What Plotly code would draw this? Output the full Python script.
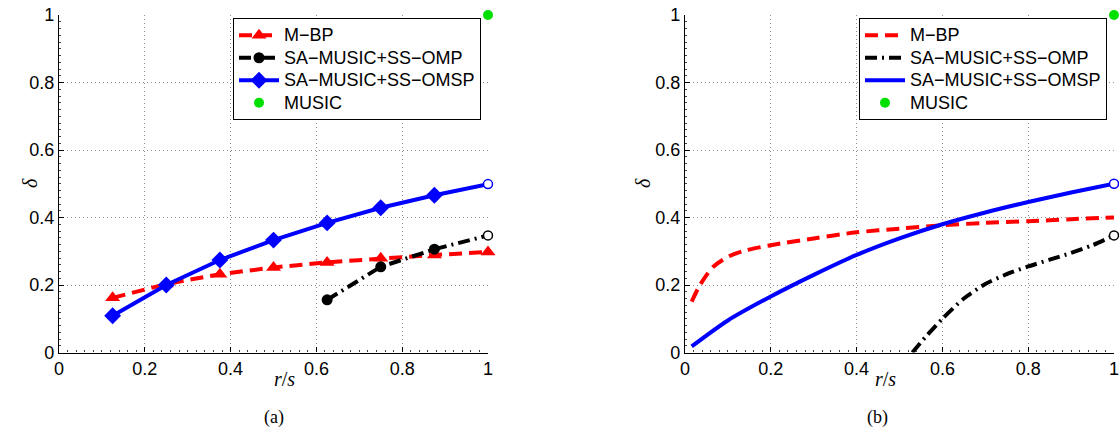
import plotly.graph_objects as go

# ---------------- data ----------------
# panel (a)
rs_a = [0.125, 0.25, 0.375, 0.5, 0.625, 0.75, 0.875, 1.0]
mbp_a = [0.162, 0.203, 0.232, 0.252, 0.267, 0.279, 0.289, 0.298]
omsp_a = [0.109, 0.200, 0.274, 0.333, 0.384, 0.429, 0.466, 0.499]
rs_omp_a = [0.625, 0.75, 0.875]
omp_a = [0.156, 0.254, 0.306]
end_x = [1.0]
omp_end = [0.347]
omsp_end = [0.499]
music_x = [1.0]
music_y = [1.0]

# panel (b)
rs_mbp_b = [0.0156, 0.035, 0.066, 0.104, 0.143, 0.2, 0.3, 0.4, 0.5, 0.6, 0.7, 0.8, 0.9, 1.0]
mbp_b = [0.151, 0.200, 0.254, 0.286, 0.303, 0.318, 0.338, 0.356, 0.367, 0.377, 0.384, 0.389, 0.395, 0.400]
rs_omsp_b = [0.0156, 0.1, 0.2, 0.3, 0.4, 0.5, 0.6, 0.7, 0.8, 0.9, 1.0]
omsp_b = [0.018, 0.095, 0.166, 0.230, 0.289, 0.338, 0.380, 0.415, 0.446, 0.474, 0.500]
rs_omp_b = [0.53, 0.56, 0.6, 0.65, 0.7, 0.75, 0.8, 0.85, 0.9, 0.95, 1.0]
omp_b = [0.0, 0.045, 0.100, 0.160, 0.203, 0.232, 0.255, 0.275, 0.295, 0.318, 0.347]

tick_vals = [0, 0.2, 0.4, 0.6, 0.8, 1]
tick_text = ["0", "0.2", "0.4", "0.6", "0.8", "1"]
names = ["M\u2212BP", "SA\u2212MUSIC+SS\u2212OMP", "SA\u2212MUSIC+SS\u2212OMSP", "MUSIC"]


def lg(name):
    # legend text drawn at 18px while the row spacing follows the 15px legend font
    return '<span style="font-size:18px">' + name + "</span>"


RED, BLACK, BLUE, GREEN = "#ff0000", "#000000", "#0000ff", "#00e000"
LW = 4
DASH = "13px,7px"
DASHDOT = "12px,5px,2px,5px"
SANS = "Liberation Sans, Arial"
SERIF = "Liberation Serif, Times New Roman"

fig = go.Figure()

# ---- panel (a) ----
fig.add_trace(go.Scatter(x=rs_a, y=mbp_a, mode="lines+markers", name=lg(names[0]),
                         line=dict(color=RED, width=LW, dash=DASH),
                         marker=dict(symbol="triangle-up", size=13, color=RED),
                         xaxis="x", yaxis="y", legend="legend", cliponaxis=False))
fig.add_trace(go.Scatter(x=rs_omp_a + end_x, y=omp_a + omp_end, mode="lines", showlegend=False,
                         line=dict(color=BLACK, width=LW, dash=DASHDOT),
                         xaxis="x", yaxis="y", cliponaxis=False))
fig.add_trace(go.Scatter(x=rs_omp_a, y=omp_a, mode="markers", showlegend=False,
                         marker=dict(symbol="circle", size=11, color=BLACK),
                         xaxis="x", yaxis="y", cliponaxis=False))
# legend entry for OMP (line + marker)
fig.add_trace(go.Scatter(x=[None], y=[None], mode="lines+markers", name=lg(names[1]),
                         line=dict(color=BLACK, width=LW, dash=DASHDOT),
                         marker=dict(symbol="circle", size=11, color=BLACK),
                         xaxis="x", yaxis="y", legend="legend"))
fig.add_trace(go.Scatter(x=rs_a[:-1], y=omsp_a[:-1], mode="lines+markers", name=lg(names[2]),
                         line=dict(color=BLUE, width=LW),
                         marker=dict(symbol="diamond", size=13, color=BLUE),
                         xaxis="x", yaxis="y", legend="legend", cliponaxis=False))
fig.add_trace(go.Scatter(x=rs_a[-2:], y=omsp_a[-2:], mode="lines", showlegend=False,
                         line=dict(color=BLUE, width=LW), xaxis="x", yaxis="y", cliponaxis=False))
fig.add_trace(go.Scatter(x=end_x, y=omp_end, mode="markers", showlegend=False,
                         marker=dict(symbol="circle", size=9, color="white",
                                     line=dict(color=BLACK, width=1.5)),
                         xaxis="x", yaxis="y", cliponaxis=False))
fig.add_trace(go.Scatter(x=end_x, y=omsp_end, mode="markers", showlegend=False,
                         marker=dict(symbol="circle", size=9, color="white",
                                     line=dict(color=BLUE, width=1.5)),
                         xaxis="x", yaxis="y", cliponaxis=False))
fig.add_trace(go.Scatter(x=music_x, y=music_y, mode="markers", name=lg(names[3]),
                         marker=dict(symbol="circle", size=10, color=GREEN),
                         xaxis="x", yaxis="y", legend="legend", cliponaxis=False))

# ---- panel (b) ----
fig.add_trace(go.Scatter(x=rs_mbp_b, y=mbp_b, mode="lines", name=lg(names[0]),
                         line=dict(color=RED, width=LW, dash=DASH, shape="spline", smoothing=0.8),
                         xaxis="x2", yaxis="y2", legend="legend2", cliponaxis=False))
fig.add_trace(go.Scatter(x=rs_omp_b, y=omp_b, mode="lines", name=lg(names[1]),
                         line=dict(color=BLACK, width=LW, dash=DASHDOT, shape="spline", smoothing=0.6),
                         xaxis="x2", yaxis="y2", legend="legend2", cliponaxis=False))
fig.add_trace(go.Scatter(x=rs_omsp_b, y=omsp_b, mode="lines", name=lg(names[2]),
                         line=dict(color=BLUE, width=LW, shape="spline", smoothing=0.8),
                         xaxis="x2", yaxis="y2", legend="legend2", cliponaxis=False))
fig.add_trace(go.Scatter(x=end_x, y=omp_end, mode="markers", showlegend=False,
                         marker=dict(symbol="circle", size=9, color="white",
                                     line=dict(color=BLACK, width=1.5)),
                         xaxis="x2", yaxis="y2", cliponaxis=False))
fig.add_trace(go.Scatter(x=end_x, y=[omsp_b[-1]], mode="markers", showlegend=False,
                         marker=dict(symbol="circle", size=9, color="white",
                                     line=dict(color=BLUE, width=1.5)),
                         xaxis="x2", yaxis="y2", cliponaxis=False))
fig.add_trace(go.Scatter(x=music_x, y=music_y, mode="markers", name=lg(names[3]),
                         marker=dict(symbol="circle", size=10, color=GREEN),
                         xaxis="x2", yaxis="y2", legend="legend2", cliponaxis=False))

W, H = 1119, 439
ydom = [1 - 352.5 / H, 1 - 15 / H]

axis_common = dict(
    tickvals=tick_vals, ticktext=tick_text,
    showgrid=True, gridcolor="#909090", griddash="1px,3px", gridwidth=1,
    zeroline=False, showline=True, linecolor="black", linewidth=1.2,
    ticks="inside", ticklen=5, tickcolor="black",
    minor=dict(ticks="inside", ticklen=2, dtick=0.02, tickcolor="#444", showgrid=False),
    tickfont=dict(family=SANS, size=18, color="black"),
    automargin=False, ticklabeloverflow="allow",
)

legend_common = dict(
    xanchor="right", yanchor="top",
    bgcolor="white", bordercolor="black", borderwidth=1,
    font=dict(family=SANS, size=15, color="black"),
    itemwidth=40, tracegroupgap=0,
)

fig.update_layout(
    width=W, height=H,
    margin=dict(l=0, r=0, t=0, b=0, autoexpand=False),
    paper_bgcolor="white", plot_bgcolor="white",
    xaxis=dict(domain=[59 / W, 488 / W], range=[0, 1], anchor="y", **axis_common),
    yaxis=dict(domain=ydom, range=[0, 1], anchor="x", **axis_common),
    xaxis2=dict(domain=[685 / W, 1114 / W], range=[0, 1], anchor="y2", **axis_common),
    yaxis2=dict(domain=ydom, range=[0, 1], anchor="x2", **axis_common),
    legend=dict(x=481 / W, y=1 - 18 / H, **legend_common),
    legend2=dict(x=1107 / W, y=1 - 18 / H, **legend_common),
    showlegend=True,
)

serif = dict(family=SERIF, size=20, color="black")
ann = []
for xc in [272, 898]:
    ann.append(dict(x=xc / W, y=1 - 392 / H, xref="paper", yref="paper",
                    text="<i>r</i>/<i>s</i>", showarrow=False, font=serif))
for xc in [17, 643]:
    ann.append(dict(x=xc / W, y=1 - 183 / H, xref="paper", yref="paper",
                    text="<i>\u03b4</i>", textangle=-90, showarrow=False, font=serif))
for xc, t in [(262, "(a)"), (890, "(b)")]:
    ann.append(dict(x=xc / W, y=1 - 430 / H, xref="paper", yref="paper",
                    text=t, showarrow=False,
                    font=dict(family=SERIF, size=18, color="black")))
fig.update_layout(annotations=ann)

fig.write_html("out.html", config={"displayModeBar": False},
               post_script="document.body.style.margin='0px';document.body.style.overflow='hidden';")
